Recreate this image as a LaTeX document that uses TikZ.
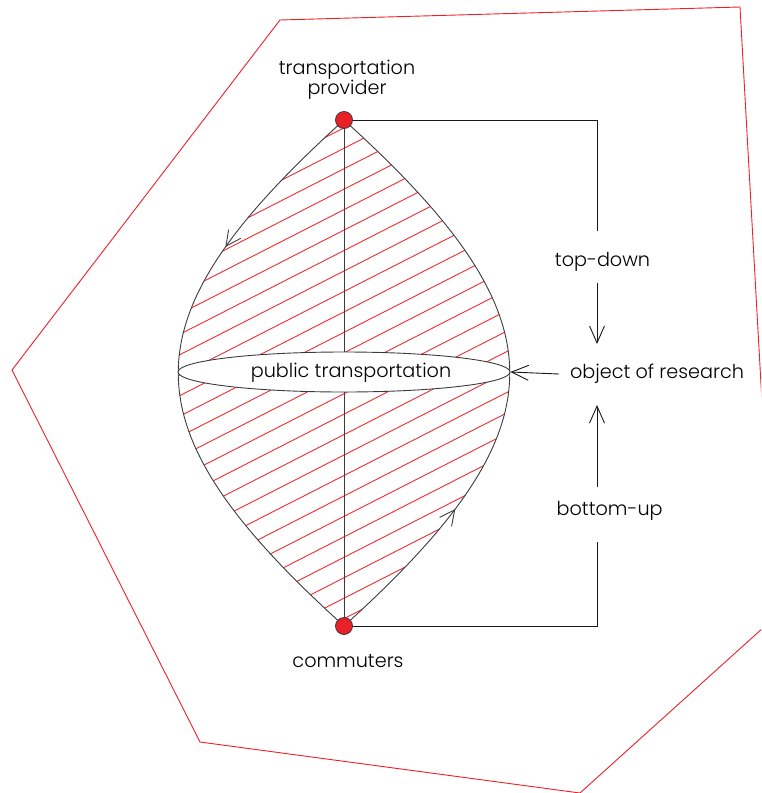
\documentclass[tikz,border=0pt]{standalone}
\usepackage{fontspec}
\setmainfont{Poppins Light}
\usetikzlibrary{arrows.meta,shapes.geometric,decorations.markings}
\definecolor{hatchred}{RGB}{238,44,50}
\definecolor{polyred}{RGB}{236,32,40}
\definecolor{dotred}{RGB}{232,32,40}
\definecolor{lensgray}{RGB}{60,60,60}
\begin{document}
\begin{tikzpicture}[x=1pt,y=-1pt,
  lbl/.style={font=\fontsize{19.2}{20}\selectfont, inner sep=0pt, align=center},
  conn/.style={draw=black!90, line width=0.9pt},
  barb/.style={-{Straight Barb[length=17pt,width=15pt,line width=0.9pt]}},
  lens/.style={draw=lensgray, line width=0.9pt},
  hatch/.style={draw=hatchred, line width=0.9pt},
  dot/.style={circle, fill=dotred, draw=lensgray, line width=0.8pt, minimum size=17pt, inner sep=0pt},
  polyline/.style={draw=polyred, line width=0.9pt},
  midarrow/.style={postaction={decorate, decoration={markings,
     mark=at position #1 with {\arrow{Straight Barb[length=15pt,width=15pt,line width=0.9pt]}}}}}
]
\useasboundingbox (0,0) rectangle (761,793);
% outer polygon
\begin{scope}
\clip (0,0) rectangle (761,793);
\draw[polyline] (280,20) -- (740,7) -- (774,618) -- (580,793) -- (200,742) -- (12,370) -- cycle;
\end{scope}
% key points
\coordinate (tpc) at (344,120);
\coordinate (btc) at (344,626);
% hatching
\begin{scope}
\clip (tpc) .. controls (123,320) and (123,426) .. (btc) .. controls (565,426) and (565,320) .. (tpc) -- cycle;
\foreach \k in {-10,...,26} {
  \draw[hatch] (144,{148.3+20.45*\k+102}) -- (544,{148.3+20.45*\k-102});
}
\end{scope}
% lens outline
\draw[lens, midarrow=0.28] (tpc) .. controls (123,320) and (123,426) .. (btc);
\draw[lens, midarrow=0.26] (btc) .. controls (565,426) and (565,320) .. (tpc);
% ellipse
\node[ellipse, draw=lensgray, fill=white, line width=0.9pt, minimum width=332pt, minimum height=40pt, inner sep=0pt] (pt) at (344,372) {};
\node[lbl] (ptlabel) at (351,373) {public transportation};
% central axis
\draw[lens] (tpc) -- (pt.north);
\draw[lens] (pt.south) -- (btc);
% right connectors
\coordinate (c1) at (597,120);
\coordinate (c2) at (597,231);
\coordinate (c3) at (597,283);
\coordinate (c4) at (597,344);
\coordinate (c5) at (559,374);
\coordinate (c6) at (597,487);
\coordinate (c7) at (597,405);
\coordinate (c8) at (597,542);
\coordinate (c9) at (597,626);
\draw[conn] (tpc) -- (c1) -- (c2);
\draw[conn, barb] (c3) -- (c4);
\draw[conn, barb] (c5) -- (pt.east);
\draw[conn, barb] (c6) -- (c7);
\draw[conn] (c8) -- (c9) -- (btc);
% labels
\node[lbl] (tdlabel) at (602.5,262) {top-down};
\node[lbl] (oor) at (657,374) {object of research};
\node[lbl] (bulabel) at (609.7,511) {bottom-up};
\node[lbl, anchor=south] (tplabel) at (347,100) {transportation\\provider};
\node[lbl] (cmlabel) at (348,661) {commuters};
% nodes
\node[dot] (tp) at (tpc) {};
\node[dot] (bt) at (btc) {};
\end{tikzpicture}
\end{document}
